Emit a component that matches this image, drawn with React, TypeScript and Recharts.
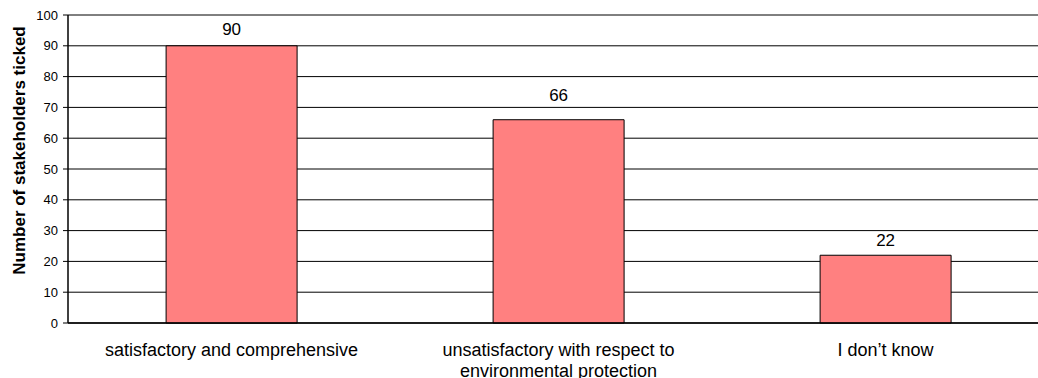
import React from "react";
import { BarChart, Bar, XAxis, YAxis, CartesianGrid, LabelList } from "recharts";

// Survey answers and how many stakeholders ticked each one
const categories: string[] = [
  "satisfactory and comprehensive",
  "unsatisfactory with respect to environmental protection",
  "I don\u2019t know",
];
const counts: number[] = [90, 66, 22];
const yTicks: number[] = [0, 10, 20, 30, 40, 50, 60, 70, 80, 90, 100];
const yTitle = "Number of stakeholders ticked";

const data = categories.map((name, i) => ({ name, value: counts[i] }));

const FONT = "Arial, 'Liberation Sans', Helvetica, sans-serif";
const BAR_FILL = "#FF8080";
// space between each bar top and its value label baseline
const LABEL_GAPS = [11, 19, 9];

// Greedy word wrap for the category labels
function wrapWords(text: string, maxChars: number): string[] {
  const words = text.split(" ");
  const lines: string[] = [];
  let cur = "";
  for (const w of words) {
    const next = cur ? cur + " " + w : w;
    if (next.length > maxChars && cur) {
      lines.push(cur);
      cur = w;
    } else {
      cur = next;
    }
  }
  if (cur) lines.push(cur);
  return lines;
}

const CategoryTick = (props: any) => {
  const { x, y, payload } = props;
  const lines = wrapWords(String(payload.value), 30);
  return (
    <text
      x={x}
      y={y}
      textAnchor="middle"
      fill="#000"
      fontFamily={FONT}
      fontSize={18}
    >
      {lines.map((line, i) => (
        <tspan key={i} x={x} dy={i === 0 ? 33 : 21}>
          {line}
        </tspan>
      ))}
    </text>
  );
};

const AxisTitle = (props: any) => {
  const vb = props.viewBox || { x: 0, y: 15, width: 68, height: 308 };
  const cx = 18.5;
  const cy = vb.y + vb.height / 2 - 18.5;
  return (
    <text
      x={cx}
      y={cy}
      dy="0.36em"
      textAnchor="middle"
      transform={`rotate(-90, ${cx}, ${cy})`}
      fontFamily={FONT}
      fontSize={17}
      fontWeight="bold"
      fill="#000"
    >
      {yTitle}
    </text>
  );
};

const ValueLabel = (props: any) => {
  const { x, y, width, value, index } = props;
  const gap = LABEL_GAPS[index] ?? 11;
  return (
    <text
      x={Number(x) + Number(width) / 2}
      y={Number(y) - gap}
      textAnchor="middle"
      fill="#000"
      fontFamily={FONT}
      fontSize={17}
    >
      {value}
    </text>
  );
};

export default function App() {
  return (
    <div
      style={{
        position: "fixed",
        left: 0,
        top: 0,
        width: 1038,
        height: 378,
        overflow: "hidden",
        background: "#fff",
      }}
    >
      <BarChart
        width={1060}
        height={378}
        data={data}
        margin={{ top: 15, right: 11, bottom: 0, left: 0 }}
        barCategoryGap="30%"
      >
        <CartesianGrid vertical={false} stroke="#000" strokeWidth={1} />
        <XAxis
          dataKey="name"
          height={55}
          tickLine={false}
          tickSize={0}
          tickMargin={0}
          axisLine={{ stroke: "#000", strokeWidth: 1.5 }}
          tick={<CategoryTick />}
          interval={0}
        />
        <YAxis
          width={68}
          domain={[0, 100]}
          ticks={yTicks}
          interval={0}
          tickSize={5}
          tickMargin={5}
          axisLine={{ stroke: "#000", strokeWidth: 1.5 }}
          tickLine={{ stroke: "#000" }}
          tick={{ fill: "#000", fontSize: 13, fontFamily: FONT }}
          label={(p: any) => <AxisTitle {...p} />}
        />
        <Bar
          dataKey="value"
          fill={BAR_FILL}
          stroke="#000"
          strokeWidth={1}
          isAnimationActive={false}
        >
          <LabelList dataKey="value" content={<ValueLabel />} />
        </Bar>
      </BarChart>
    </div>
  );
}
